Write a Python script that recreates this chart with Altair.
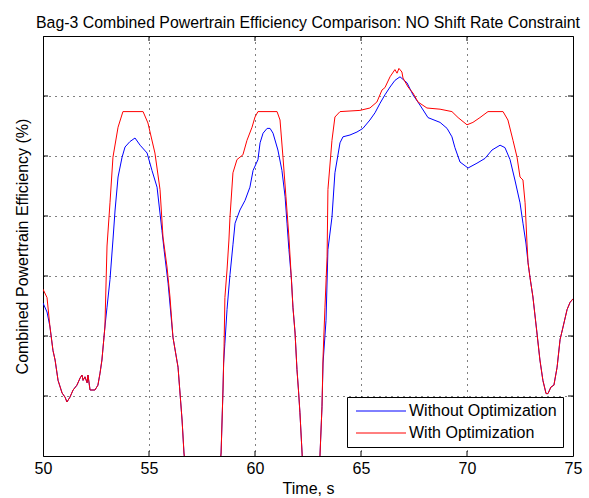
import altair as alt
import pandas as pd

FONT = "Liberation Sans, Arial, Helvetica, sans-serif"

series_names = ["Without Optimization", "With Optimization"]
series_colors = ["#0000ff", "#ff0000"]

x_ticks = [50, 55, 60, 65, 70, 75]
y_ticks = [10, 15, 20, 25, 30, 35, 40, 45]

red_t = [50.00, 50.19, 50.33, 50.47, 50.57, 50.71, 50.90, 51.04, 51.13, 51.27, 51.42, 51.60,
         51.75, 51.84, 51.89, 51.98, 52.08, 52.12, 52.22, 52.45, 52.59, 52.69, 52.78, 52.92,
         53.02, 53.16, 53.30, 53.54, 53.77, 54.72, 54.95, 55.28, 55.52, 55.66, 55.85, 55.99,
         56.13, 56.37, 56.56, 56.65, 56.93, 57.50, 58.16, 58.40, 58.49, 58.54, 58.58, 58.68,
         58.77, 58.82, 58.96, 59.15, 59.29, 59.43, 59.62, 59.86, 60.00, 60.14, 61.04, 61.18,
         61.32, 61.46, 61.60, 61.70, 61.79, 61.89, 61.98, 62.05, 62.12, 62.22, 62.36, 62.70,
         62.97, 63.07, 63.16, 63.21, 63.30, 63.40, 63.44, 63.63, 63.77, 64.01, 64.95, 65.42,
         65.75, 65.99, 66.13, 66.37, 66.60, 66.70, 66.79, 66.93, 66.98, 67.22, 67.45, 67.69,
         68.11, 68.73, 69.29, 69.58, 70.00, 70.28, 70.61, 70.99, 71.70, 71.93, 72.17, 72.36,
         72.50, 72.64, 72.74, 72.83, 72.88, 72.97, 73.11, 73.30, 73.44, 73.58, 73.73, 73.82,
         73.96, 74.10, 74.25, 74.39, 74.53, 74.72, 74.86, 75.00]
red_v = [23.9, 23.2, 20.75, 18.8, 18.0, 16.3, 15.25, 14.9, 14.5, 14.9, 15.5, 15.9,
         16.5, 16.75, 16.3, 16.6, 16.1, 16.75, 15.5, 15.5, 15.9, 16.9, 18.0, 20.75,
         27.5, 31.1, 34.9, 37.4, 38.7, 38.7, 37.75, 35.25, 32.2, 28.25, 25.75, 23.25,
         19.9, 17.4, 13.0, 10.25, 5.0, 1.0, 5.0, 10.25, 15.5, 19.1, 23.2, 25.5,
         28.0, 29.9, 33.6, 34.7, 34.9, 35.1, 36.3, 37.4, 38.25, 38.7, 38.7, 38.0,
         34.9, 31.6, 28.25, 25.25, 22.4, 20.25, 17.2, 15.5, 13.6, 10.25, 5.0, 2.0,
         5.0, 10.25, 14.1, 18.25, 22.4, 26.6, 32.2, 36.3, 38.25, 38.7, 38.8, 39.0,
         39.5, 40.5, 40.7, 41.6, 42.2, 41.9, 42.3, 42.0, 41.5, 40.75, 40.25, 39.5,
         39.0, 38.9, 38.7, 38.2, 37.6, 37.8, 38.2, 38.7, 38.7, 38.0, 36.3, 34.9,
         33.25, 33.0, 31.1, 27.75, 26.1, 24.9, 23.25, 20.25, 18.0, 16.3, 15.2, 15.2,
         15.75, 15.9, 17.4, 19.7, 20.75, 22.2, 22.8, 23.1]

blue_t = [50.00, 50.19, 50.33, 50.47, 50.57, 50.71, 50.90, 51.04, 51.13, 51.27, 51.42, 51.60,
          51.75, 51.84, 51.89, 51.98, 52.08, 52.12, 52.22, 52.45, 52.59, 52.69, 52.78, 52.92,
          53.02, 53.16, 53.30, 53.40, 53.54, 53.73, 53.87, 54.10, 54.34, 54.58, 54.91, 55.14,
          55.38, 55.61, 55.71, 55.90, 56.13, 56.37, 56.56, 56.65, 56.93, 57.50, 58.16, 58.40,
          58.49, 58.52, 58.58, 58.68, 58.82, 58.96, 59.06, 59.29, 59.53, 59.76, 59.91, 60.14,
          60.24, 60.38, 60.57, 60.71, 60.85, 61.08, 61.27, 61.42, 61.51, 61.60, 61.72, 61.79,
          61.89, 61.98, 62.05, 62.12, 62.22, 62.36, 62.70, 62.97, 63.07, 63.16, 63.21, 63.35,
          63.44, 63.63, 63.77, 64.01, 64.15, 64.48, 64.81, 65.09, 65.42, 65.66, 65.90, 66.13,
          66.37, 66.60, 66.84, 67.17, 67.45, 67.78, 68.16, 68.73, 69.06, 69.29, 69.43, 69.67,
          70.05, 70.47, 70.85, 71.18, 71.56, 71.79, 72.03, 72.26, 72.50, 72.64, 72.78, 72.88,
          72.97, 73.11, 73.30, 73.44, 73.58, 73.73, 73.82, 73.96, 74.10, 74.25, 74.39, 74.53,
          74.72, 74.86, 75.00]
blue_v = [22.75, 22.0, 20.75, 18.8, 18.0, 16.3, 15.25, 14.9, 14.5, 14.9, 15.5, 15.9,
          16.5, 16.75, 16.3, 16.6, 16.1, 16.75, 15.5, 15.5, 15.9, 16.9, 18.0, 20.75,
          22.4, 24.7, 28.0, 30.5, 33.25, 34.9, 35.75, 36.2, 36.5, 35.9, 35.25, 33.8,
          32.4, 28.8, 27.2, 24.4, 19.9, 17.4, 13.0, 10.25, 5.0, 1.0, 5.0, 10.25,
          15.5, 17.75, 19.4, 22.2, 25.1, 27.6, 29.4, 30.5, 31.3, 32.4, 33.8, 34.7,
          36.1, 36.9, 37.3, 37.3, 36.9, 35.5, 33.8, 31.6, 29.4, 27.2, 24.7, 22.4,
          20.25, 17.2, 15.5, 13.6, 10.25, 5.0, 2.0, 5.0, 10.25, 14.1, 17.75, 21.3,
          27.2, 29.9, 33.6, 36.1, 36.6, 36.75, 37.0, 37.3, 38.0, 38.6, 39.4, 40.1,
          40.75, 41.3, 41.6, 41.1, 40.1, 39.25, 38.2, 37.8, 37.3, 36.6, 35.7, 34.5,
          34.0, 34.4, 34.8, 35.5, 35.9, 35.7, 34.7, 33.0, 31.1, 29.4, 27.75, 26.1,
          24.9, 23.25, 20.25, 18.0, 16.3, 15.2, 15.2, 15.75, 15.9, 17.4, 19.7, 20.75,
          22.2, 22.8, 23.1]

blue_df = pd.DataFrame({"t": blue_t, "v": blue_v, "series": series_names[0]})
red_df = pd.DataFrame({"t": red_t, "v": red_v, "series": series_names[1]})

x_scale = alt.Scale(domain=[50, 75], nice=False, zero=False)
y_scale = alt.Scale(domain=[10, 45], nice=False, zero=False)
color_scale = alt.Scale(domain=series_names, range=series_colors)

x_axis = alt.Axis(values=x_ticks, labelFontSize=16, labelFont=FONT, labelColor="black",
                  ticks=False, domain=False, grid=True, gridColor="black", gridDash=[1, 5],
                  gridOpacity=1, labelPadding=4, labelFlush=False,
                  title="Time, s", titleFontSize=16, titleFont=FONT, titleFontWeight="normal",
                  titleColor="black", titlePadding=4)
y_axis = alt.Axis(values=y_ticks, labels=False, ticks=False, domain=False, grid=True,
                  gridColor="black", gridDash=[1, 5], gridOpacity=1,
                  title="Combined Powertrain Efficiency (%)", titleFontSize=16, titleFont=FONT,
                  titleFontWeight="normal", titleColor="black", titlePadding=13)

legend = alt.Legend(title=None, orient="none", legendX=304, legendY=361,
                    symbolType="M-5,0L5,0", symbolSize=100, symbolStrokeWidth=1,
                    labelFontSize=16, labelFont=FONT, labelColor="black", labelLimit=300,
                    padding=6, rowPadding=6, symbolOffset=20, labelOffset=20,
                    strokeColor="black", fillColor="white", cornerRadius=0)

X = alt.X("t:Q", scale=x_scale, axis=x_axis)
Y = alt.Y("v:Q", scale=y_scale, axis=y_axis)


def line_layer(df):
    return alt.Chart(df).mark_line(strokeWidth=1, clip=True).encode(
        x=X, y=Y,
        color=alt.Color("series:N", scale=color_scale, legend=legend),
        order=alt.Order("t:Q"),
    )


blue_line = line_layer(blue_df)
red_line = line_layer(red_df)

xt_df = pd.DataFrame({"xt": x_ticks[1:-1]})
yt_df = pd.DataFrame({"yt": y_ticks[1:-1]})

XT = alt.X("xt:Q", scale=x_scale, axis=x_axis)
YT = alt.Y("yt:Q", scale=y_scale, axis=y_axis)

tick_bottom = alt.Chart(xt_df).mark_rule(color="black", strokeWidth=1).encode(
    x=XT, y=alt.value(420), y2=alt.value(415))
tick_top = alt.Chart(xt_df).mark_rule(color="black", strokeWidth=1).encode(
    x=XT, y=alt.value(0), y2=alt.value(5))
tick_left = alt.Chart(yt_df).mark_rule(color="black", strokeWidth=1).encode(
    y=YT, x=alt.value(0), x2=alt.value(5))
tick_right = alt.Chart(yt_df).mark_rule(color="black", strokeWidth=1).encode(
    y=YT, x=alt.value(530), x2=alt.value(525))

chart = alt.layer(blue_line, red_line, tick_bottom, tick_top, tick_left, tick_right).properties(
    width=530, height=420,
    title=alt.TitleParams(
        text="Bag-3 Combined Powertrain Efficiency Comparison: NO Shift Rate Constraint",
        fontSize=15.85, font=FONT, fontWeight="normal", color="black", offset=5, anchor="middle"),
    padding={"left": 43, "top": 36, "right": 16, "bottom": 42},
    autosize=alt.AutoSizeParams(type="none"),
    background="white",
).configure_view(stroke="black", strokeWidth=1)

chart.save("out.html", embed_options={"renderer": "svg", "actions": False})
